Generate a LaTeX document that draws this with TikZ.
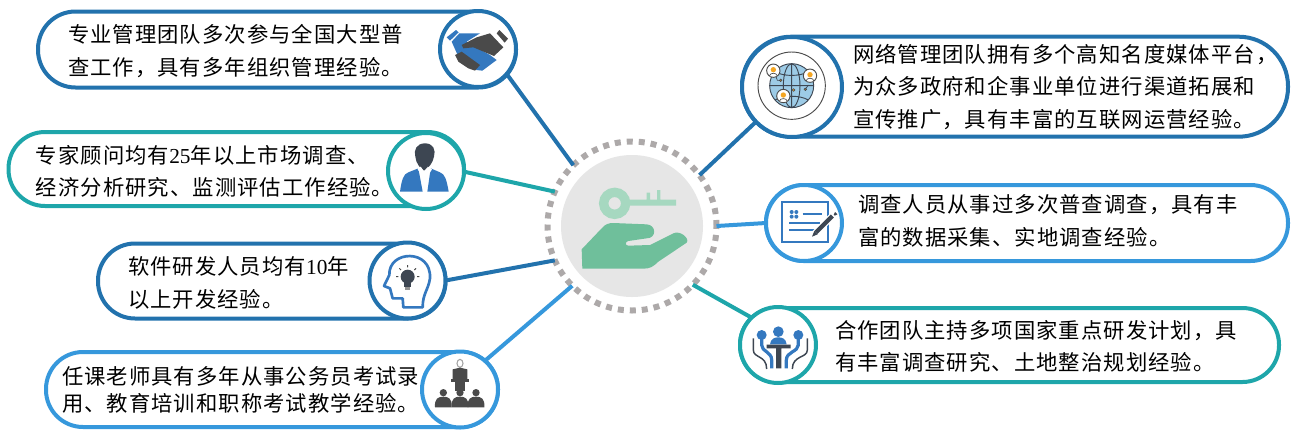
\documentclass[tikz,border=0pt]{standalone}
\usepackage{fontspec}
\newfontfamily\cjk[LetterSpace=5]{Noto Sans CJK SC}
\newfontfamily\lat{Liberation Serif}
\definecolor{bluedark}{HTML}{2272AD}
\definecolor{tealc}{HTML}{1EA6AA}
\definecolor{bluelite}{HTML}{3698DC}
\definecolor{ringc}{HTML}{ADA9A9}
\definecolor{discc}{HTML}{E6E6E6}
\definecolor{keyc}{HTML}{A6D8C0}
\definecolor{handc}{HTML}{6FBF9B}
\definecolor{iconblue}{HTML}{3478BF}
\definecolor{icondark}{HTML}{3D4652}
\definecolor{icongrey}{HTML}{4A4A4A}
\definecolor{globec}{HTML}{9DCBE6}
\definecolor{orangec}{HTML}{F5A623}
\tikzset{
  pillbox/.style 2 args={draw,fill=white,line width=3pt,inner sep=0pt,outer sep=0pt,
    minimum width=#1*.75pt,minimum height=#2*.75pt,rounded corners=#2*.37pt},
  badge/.style 2 args={circle,draw=#1,fill=white,line width=3pt,inner sep=0pt,outer sep=0pt,
    minimum size=#2*1.5pt},
  label/.style={anchor=west,align=left,inner sep=0pt,outer sep=0pt,text=black,
    font=\cjk\fontsize{16}{24.2}\selectfont},
  link/.style={line width=3pt},
  zoomed/.style={x=.25pt,y=-.25pt},
}
\begin{document}
\begin{tikzpicture}[x=.75pt,y=-.75pt]
\useasboundingbox (0,0) rectangle (1314,437);
% pills
\node[pillbox={478}{76},draw=bluedark] (p1) at (277,49.5) {};
\node[pillbox={455.5}{74},draw=tealc] (p2) at (236.25,169) {};
\node[pillbox={347.5}{75},draw=bluedark] (p3) at (271.75,281) {};
\node[pillbox={452}{75},draw=bluelite] (p4) at (272,389.5) {};
\node[pillbox={546}{100},draw=bluedark] (p5) at (1015,86.7) {};
\node[pillbox={522}{76},draw=bluelite] (p6) at (1027,223) {};
\node[pillbox={539}{74},draw=tealc] (p7) at (1009.5,345) {};
% badges
\node[badge={bluedark}{38}] (c1) at (478,49) {};
\node[badge={tealc}{38}] (c2) at (426,171) {};
\node[badge={bluedark}{38}] (c3) at (407.5,280.5) {};
\node[badge={bluelite}{38}] (c4) at (460,389.5) {};
\node[badge={bluedark}{50}] (c5) at (792,87) {};
\node[badge={bluelite}{38}] (c6) at (804,223) {};
\node[badge={tealc}{38}] (c7) at (778,345) {};
% hub
\node[circle,fill=white,draw=ringc,line width=4.5pt,dash pattern=on 4.5pt off 4.5pt,
  inner sep=0pt,outer sep=0pt,minimum size=126.75pt] (hub) at (632,226) {};
\node[circle,fill=discc,inner sep=0pt,minimum size=106.5pt] (disc) at (632,226) {};
% connectors
\draw[link,bluedark] (c1.-41) -- (hub.134.5);
\draw[link,tealc] (c2.-1.5) -- (hub.156.7);
\draw[link,bluedark] (c3.0) -- (hub.204.4);
\draw[link,bluelite] (c4.49) -- (hub.225.5);
\draw[link,bluedark] (c5.224) -- (hub.37.6);
\draw[link,bluelite] (c6.180) -- (hub.-0.7);
\draw[link,tealc] (c7.134) -- (hub.-44.5);
% texts
\node[label] (t1) at (68,51) {专业管理团队多次参与全国大型普\\查工作，具有多年组织管理经验。};
\node[label] (t2) at (36,171) {专家顾问均有{\lat 25}年以上市场调查、\\经济分析研究、监测评估工作经验。};
\node[label] (t3) at (128,283) {软件研发人员均有{\lat 10}年\\以上开发经验。};
\node[label,font=\cjk\fontsize{16}{20.5}\selectfont] (t4) at (62,390) {任课老师具有多年从事公务员考试录\\用、教育培训和职称考试教学经验。};
\node[label] (t5) at (853,87) {网络管理团队拥有多个高知名度媒体平台，\\为众多政府和企事业单位进行渠道拓展和\\宣传推广，具有丰富的互联网运营经验。};
\node[label] (t6) at (858,221) {调查人员从事过多次普查调查，具有丰\\富的数据采集、实地调查经验。};
\node[label] (t7) at (835,346) {合作团队主持多项国家重点研发计划，具\\有丰富调查研究、土地整治规划经验。};
% key and hand
\begin{scope}[shift={(530,130)},zoomed]
  \draw[keyc,line width=7pt] (254,220) circle[radius=33];
  \fill[keyc] (290,209) rectangle (438,227) (350,188) rectangle (360,209) (381,180) rectangle (391,209);
  \fill[handc] (155,358) -- (215,295) .. controls (225,283) and (235,279) .. (250,279)
    -- (350,283) .. controls (380,285) and (380,325) .. (350,325) -- (295,333)
    .. controls (285,335) and (285,347) .. (295,347) -- (360,345) -- (430,310)
    .. controls (450,300) and (480,325) .. (470,338) -- (385,395)
    .. controls (370,410) and (360,416) .. (340,416) -- (157,416) -- cycle;
\end{scope}
% handshake
\begin{scope}[zoomed]
  \fill[iconblue] (1355,125) -- (1378,100) -- (1440,100) -- (1400,125) -- (1470,165) -- (1490,180) -- (1447,212) -- (1430,210) -- (1375,170) -- cycle;
  \fill[iconblue] (1340,112) -- (1368,90) -- (1376,97) -- (1350,122) -- cycle;
  \fill[icongrey] (1385,135) -- (1430,112) -- (1470,100) -- (1510,142) -- (1482,168) -- (1420,142) -- (1390,145) -- cycle;
  \fill[icongrey] (1490,100) -- (1498,90) -- (1524,116) -- (1514,128) -- cycle;
  \fill[icongrey] (1365,165) -- (1385,155) -- (1440,195) -- (1425,212) -- (1405,205) -- (1375,185) -- cycle;
\end{scope}
% person
\begin{scope}[zoomed]
  \fill[iconblue] (1200,575) .. controls (1205,540) and (1210,522) .. (1225,517) -- (1255,505) -- (1268,575) -- cycle;
  \fill[iconblue] (1346,575) .. controls (1340,540) and (1335,522) .. (1320,517) -- (1292,505) -- (1282,575) -- cycle;
  \fill[icondark] (1275,430) .. controls (1300,430) and (1308,450) .. (1302,470)
    .. controls (1298,490) and (1285,505) .. (1272,512)
    .. controls (1260,505) and (1248,490) .. (1246,470)
    .. controls (1240,450) and (1250,430) .. (1275,430) -- cycle;
  \fill[white] (1252,506) -- (1262,500) -- (1272,514) -- (1284,500) -- (1296,508) -- (1286,524) -- (1274,514) -- (1262,522) -- cycle;
\end{scope}
% head with bulb
\begin{scope}[shift={(0,220)},zoomed]
  \draw[iconblue,line width=2pt,line join=round] (1210,262) -- (1208,235) -- (1178,235) -- (1170,205) -- (1152,198) -- (1168,165)
    .. controls (1165,90) and (1295,85) .. (1290,175)
    .. controls (1285,210) and (1268,220) .. (1268,262) -- cycle;
  \fill[icondark] (1223,170) circle[radius=21];
  \fill[icondark] (1212,185) rectangle (1234,200);
  \fill[icongrey!60] (1216,200) rectangle (1230,210);
  \draw[icongrey,line width=.7pt] (1223,142) -- (1223,135) (1203,150) -- (1198,145) (1243,150) -- (1248,145) (1195,170) -- (1188,170) (1251,170) -- (1258,170);
\end{scope}
% speaker and audience
\begin{scope}[shift={(0,220)},zoomed]
  \draw[icongrey!50,line width=.8pt,fill=white] (1380,430) ellipse[x radius=9,y radius=12];
  \fill[icongrey] (1358,478) -- (1358,448) -- (1380,443) -- (1402,448) -- (1402,478) -- cycle;
  \fill[icongrey] (1353,478) rectangle (1407,485);
  \fill[icongrey] (1366,485) rectangle (1394,512);
  \foreach \hx in {1330,1380,1428}{
    \fill[icongrey] (\hx,518) circle[radius=11];
    \fill[icongrey] (\hx-25,562) .. controls (\hx-27,535) and (\hx-15,530) .. (\hx,530)
      .. controls (\hx+15,530) and (\hx+27,535) .. (\hx+25,562) -- cycle;
  }
\end{scope}
% globe
\begin{scope}[shift={(690,20)},zoomed]
  \draw[icongrey,line width=.7pt] (305,197) circle[radius=101];
  \draw[fill=globec,draw=icondark,line width=.7pt] (305,197) circle[radius=66];
  \draw[icondark,line width=.7pt] (305,197) ellipse[x radius=25,y radius=66] (239,197) -- (371,197) (305,131) -- (305,263)
    (255,155) .. controls (280,170) and (330,170) .. (355,155) (255,240) .. controls (280,225) and (330,225) .. (355,240);
  \foreach \px/\py in {250/152,360/167,280/228}{
    \draw[fill=white,draw=icongrey,line width=.7pt] (\px,\py) circle[radius=20];
    \fill[orangec] (\px,\py-3) circle[radius=8];
    \draw[icongrey,fill=white,line width=.5pt] (\px-12,\py+16) .. controls (\px-10,\py+5) and (\px+10,\py+5) .. (\px+12,\py+16);
  }
  \foreach \px/\py in {272/181,311/210,346/208}{
    \fill[orangec,draw=icondark,line width=.4pt] (\px,\py) circle[radius=4];
  }
  \draw[icondark,line width=.5pt] (258,170) -- (262,181) -- (272,181) (346,208) -- (355,195);
\end{scope}
% survey form
\begin{scope}[shift={(700,170)},zoomed]
  \draw[iconblue,line width=1.5pt] (245,97) rectangle (385,215);
  \draw[iconblue,line width=1.5pt] (308,133) -- (365,133) (268,160) -- (360,160) (268,180) -- (360,180);
  \foreach \fx/\fy in {275/126,289/126,275/140,289/140}{
    \fill[iconblue] (\fx,\fy) ellipse[x radius=6,y radius=6];
  }
  \draw[white,line width=5pt] (345,190) -- (400,135);
  \draw[icondark,line width=3.2pt] (348,187) -- (397,138);
  \fill[icondark] (336,200) -- (343,183) -- (353,193) -- cycle;
  \fill[icondark] (401,134) -- (405,126) -- (412,133) -- (404,137) -- cycle;
\end{scope}
% team
\begin{scope}[shift={(700,170)},zoomed]
  \fill[iconblue] (235,485) circle[radius=16];
  \fill[iconblue] (210,523) .. controls (212,505) and (225,502) .. (235,502)
    .. controls (245,502) and (258,505) .. (260,523) -- cycle;
  \fill[icondark] (200,524) rectangle (272,535) (228,535) rectangle (244,595);
  \fill[iconblue] (185,495) circle[radius=15] (295,495) circle[radius=15];
  \draw[iconblue,line width=2.4pt] (185,505) -- (185,525) .. controls (185,545) and (215,545) .. (215,570) -- (215,595)
    (295,505) -- (295,525) .. controls (295,545) and (259,545) .. (259,570) -- (259,595);
  \draw[icondark,line width=1.1pt] (160,505) -- (160,540) .. controls (160,565) and (200,555) .. (200,597)
    (322,505) -- (322,540) .. controls (322,565) and (277,555) .. (277,597);
\end{scope}
\end{tikzpicture}
\end{document}
